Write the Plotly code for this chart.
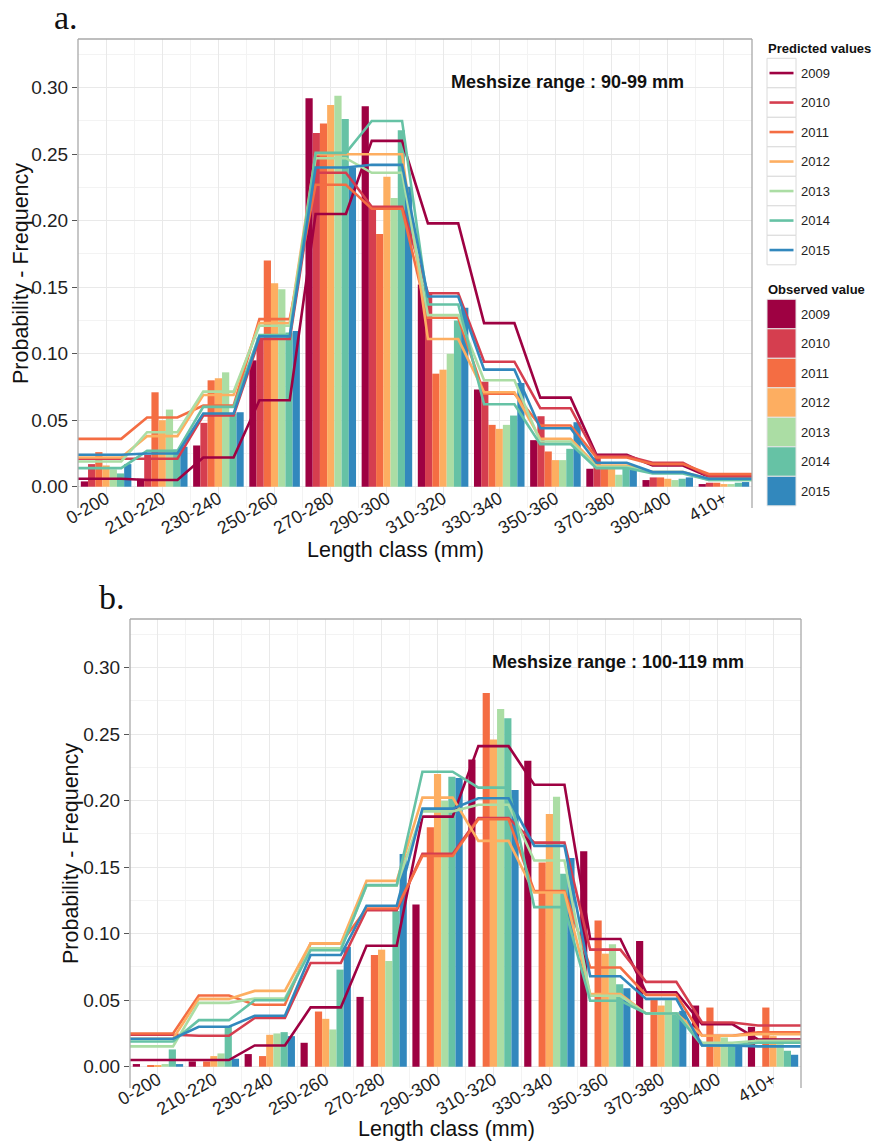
import plotly.graph_objects as go

# ---------------------------------------------------------------- data
length_classes = ["0-200", "210-220", "230-240", "250-260", "270-280", "290-300",
                  "310-320", "330-340", "350-360", "370-380", "390-400", "410+"]
years = ["2009", "2010", "2011", "2012", "2013", "2014", "2015"]
year_colors = ["#9E0142", "#D53E4F", "#F46D43", "#FDAE61", "#ABDDA4", "#66C2A5", "#3288BD"]

# Mesh size 90-99 mm : observed frequencies
obs_a_2009 = [0.004, 0.006, 0.031, 0.095, 0.292, 0.286, 0.152, 0.073, 0.035, 0.0135, 0.005, 0.002]
obs_a_2010 = [0.017, 0.024, 0.048, 0.112, 0.266, 0.210, 0.146, 0.079, 0.053, 0.022, 0.007, 0.003]
obs_a_2011 = [0.026, 0.071, 0.080, 0.170, 0.273, 0.190, 0.085, 0.0465, 0.0265, 0.015, 0.007, 0.003]
obs_a_2012 = [0.016, 0.050, 0.0815, 0.153, 0.287, 0.233, 0.088, 0.0435, 0.020, 0.014, 0.006, 0.002]
obs_a_2013 = [0.013, 0.058, 0.086, 0.1485, 0.294, 0.217, 0.100, 0.0465, 0.020, 0.009, 0.005, 0.002]
obs_a_2014 = [0.010, 0.028, 0.055, 0.116, 0.2765, 0.268, 0.125, 0.0535, 0.0285, 0.014, 0.006, 0.003]
obs_a_2015 = [0.017, 0.030, 0.056, 0.117, 0.240, 0.2255, 0.1345, 0.078, 0.0485, 0.013, 0.007, 0.0035]

# Mesh size 90-99 mm : predicted probabilities
pred_a_2009 = [0.006, 0.005, 0.022, 0.065, 0.205, 0.260, 0.198, 0.123, 0.067, 0.024, 0.016, 0.0075]
pred_a_2010 = [0.021, 0.021, 0.0535, 0.111, 0.236, 0.2105, 0.1455, 0.094, 0.059, 0.023, 0.018, 0.008]
pred_a_2011 = [0.036, 0.052, 0.061, 0.126, 0.227, 0.209, 0.127, 0.070, 0.046, 0.022, 0.017, 0.0095]
pred_a_2012 = [0.022, 0.038, 0.069, 0.123, 0.250, 0.250, 0.111, 0.071, 0.036, 0.016, 0.011, 0.006]
pred_a_2013 = [0.019, 0.041, 0.0715, 0.121, 0.247, 0.236, 0.129, 0.080, 0.034, 0.015, 0.011, 0.005]
pred_a_2014 = [0.014, 0.027, 0.060, 0.114, 0.251, 0.275, 0.137, 0.062, 0.032, 0.014, 0.010, 0.005]
pred_a_2015 = [0.024, 0.025, 0.055, 0.113, 0.240, 0.242, 0.143, 0.088, 0.044, 0.018, 0.011, 0.006]

# Mesh size 100-119 mm : observed frequencies (no 2010 sample)
obs_b_2009 = [0.002, 0.004, 0.0095, 0.018, 0.0525, 0.122, 0.231, 0.230, 0.162, 0.0945, 0.046, 0.030]
obs_b_2010 = [0, 0, 0, 0, 0, 0, 0, 0, 0, 0, 0, 0]
obs_b_2011 = [0.001, 0.004, 0.008, 0.0415, 0.084, 0.180, 0.281, 0.1535, 0.110, 0.051, 0.0445, 0.0445]
obs_b_2012 = [0.001, 0.008, 0.024, 0.036, 0.088, 0.220, 0.246, 0.190, 0.085, 0.046, 0.024, 0.023]
obs_b_2013 = [0.002, 0.010, 0.025, 0.028, 0.0795, 0.200, 0.269, 0.203, 0.092, 0.051, 0.022, 0.017]
obs_b_2014 = [0.013, 0.030, 0.026, 0.073, 0.117, 0.218, 0.262, 0.145, 0.062, 0.041, 0.017, 0.012]
obs_b_2015 = [0.002, 0.006, 0.023, 0.090, 0.160, 0.217, 0.208, 0.157, 0.059, 0.042, 0.017, 0.009]

# Mesh size 100-119 mm : predicted probabilities
pred_b_2009 = [0.005, 0.005, 0.016, 0.0446, 0.091, 0.188, 0.241, 0.212, 0.096, 0.056, 0.032, 0.0205]
pred_b_2010 = [0.024, 0.0233, 0.0366, 0.078, 0.1177, 0.160, 0.187, 0.1685, 0.088, 0.0638, 0.0333, 0.031]
pred_b_2011 = [0.025, 0.0535, 0.0466, 0.0927, 0.119, 0.1585, 0.186, 0.132, 0.0746, 0.054, 0.0233, 0.0258]
pred_b_2012 = [0.021, 0.051, 0.057, 0.0927, 0.1397, 0.2023, 0.1698, 0.131, 0.0546, 0.040, 0.0233, 0.0245]
pred_b_2013 = [0.0153, 0.048, 0.0513, 0.089, 0.136, 0.192, 0.197, 0.155, 0.0533, 0.040, 0.018, 0.0195]
pred_b_2014 = [0.019, 0.035, 0.050, 0.0876, 0.1365, 0.2218, 0.2098, 0.120, 0.0496, 0.040, 0.016, 0.018]
pred_b_2015 = [0.021, 0.030, 0.0383, 0.084, 0.121, 0.194, 0.2018, 0.166, 0.068, 0.051, 0.016, 0.0153]

y_ticks = [0.00, 0.05, 0.10, 0.15, 0.20, 0.25, 0.30]

panels = [
    dict(xa="x", ya="y", tag="a.", mesh="Meshsize range : 90-99 mm",
         observed=[obs_a_2009, obs_a_2010, obs_a_2011, obs_a_2012, obs_a_2013, obs_a_2014, obs_a_2015],
         predicted=[pred_a_2009, pred_a_2010, pred_a_2011, pred_a_2012, pred_a_2013, pred_a_2014, pred_a_2015]),
    dict(xa="x2", ya="y2", tag="b.", mesh="Meshsize range : 100-119 mm",
         observed=[obs_b_2009, obs_b_2010, obs_b_2011, obs_b_2012, obs_b_2013, obs_b_2014, obs_b_2015],
         predicted=[pred_b_2009, pred_b_2010, pred_b_2011, pred_b_2012, pred_b_2013, pred_b_2014, pred_b_2015]),
]

# ---------------------------------------------------------------- page geometry
W, H = 873, 1144
FONT = "Liberation Sans, Arial, sans-serif"
SERIF = "Liberation Serif, Times New Roman, serif"
INK = "#1f1f1f"


def px_x(px):
    return px / W


def px_y(py):
    return 1 - py / H


# plot-panel boxes in pixels (left, right, top, bottom) and label anchors
layout_boxes = [
    dict(l=78, r=752, t=39, b=508, axis_at=484, tag_xy=(52, 17.5),
         xtitle_xy=(395, 549.5), ytitle_xy=(21, 274)),
    dict(l=130, r=801, t=619, b=1088, axis_at=1065, tag_xy=(97, 597.5),
         xtitle_xy=(447, 1129), ytitle_xy=(71, 854)),
]

categories = list(range(1, len(length_classes) + 1))


def step_path(values, half=0.27):
    """Flat segment across each length class, joined by slopes between classes."""
    xs, ys = [], []
    n = len(values)
    for i, v in enumerate(values, start=1):
        xs += [0.5 if i == 1 else i - half, n + 0.5 if i == n else i + half]
        ys += [v, v]
    return xs, ys


fig = go.Figure()
annotations = []
shapes = []

for p, box in zip(panels, layout_boxes):
    for yr, col, vals in zip(years, year_colors, p["observed"]):
        fig.add_trace(go.Bar(x=categories, y=vals, marker=dict(color=col, line=dict(width=0)),
                             name=yr, showlegend=False, xaxis=p["xa"], yaxis=p["ya"]))
    for yr, col, vals in zip(years, year_colors, p["predicted"]):
        xs, ys = step_path(vals)
        fig.add_trace(go.Scatter(x=xs, y=ys, mode="lines", line=dict(color=col, width=2.6),
                                 name=yr, showlegend=False, xaxis=p["xa"], yaxis=p["ya"]))

    xkey = "xaxis" if p["xa"] == "x" else "xaxis2"
    ykey = "yaxis" if p["ya"] == "y" else "yaxis2"
    fig.layout[xkey] = dict(
        domain=[px_x(box["l"]), px_x(box["r"])], range=[0.5, len(categories) + 0.5],
        anchor="free", position=px_y(box["axis_at"]), automargin=False,
        tickmode="array", tickvals=categories, ticktext=length_classes, tickangle=-30,
        tickfont=dict(family=FONT, size=18, color=INK), ticks="",
        showgrid=True, gridcolor="#e9e9e9", gridwidth=1.1, zeroline=False, showline=False,
        minor=dict(tickmode="array", tickvals=[c + 0.5 for c in categories[:-1]],
                   showgrid=True, gridcolor="#f3f3f3", gridwidth=0.7, ticks=""),
        fixedrange=True,
    )
    fig.layout[ykey] = dict(
        domain=[px_y(box["b"]), px_y(box["t"])], range=[-0.016, 0.3366], anchor=p["xa"],
        automargin=False,
        tickmode="array", tickvals=y_ticks, ticktext=[f"{v:.2f}" for v in y_ticks],
        tickfont=dict(family=FONT, size=19, color=INK),
        ticks="outside", ticklen=5, tickwidth=1, tickcolor="#555555",
        showgrid=True, gridcolor="#e9e9e9", gridwidth=1.1, zeroline=False, showline=False,
        minor=dict(tickmode="array", tickvals=[0.025, 0.075, 0.125, 0.175, 0.225, 0.275, 0.325],
                   showgrid=True, gridcolor="#f3f3f3", gridwidth=0.7, ticks=""),
        fixedrange=True,
    )

    # panel border: left, top and right edges
    for x0, y0, x1, y1 in [(0, 0, 0, 1), (0, 1, 1, 1), (1, 0, 1, 1)]:
        shapes.append(dict(type="line", xref=f"{p['xa']} domain", yref=f"{p['ya']} domain",
                           x0=x0, y0=y0, x1=x1, y1=y1, line=dict(color="#a9a9a9", width=1.3),
                           layer="above"))

    annotations.append(dict(x=9.22, y=0.304, xref=p["xa"], yref=p["ya"], text=f"<b>{p['mesh']}</b>",
                            showarrow=False, xanchor="center", yanchor="middle",
                            font=dict(family=FONT, size=18, color="#111111")))
    tx, ty = box["tag_xy"]
    annotations.append(dict(x=px_x(tx), y=px_y(ty), xref="paper", yref="paper", text=p["tag"],
                            showarrow=False, xanchor="left", yanchor="middle",
                            font=dict(family=SERIF, size=34, color="#111111")))
    xx, xy = box["xtitle_xy"]
    annotations.append(dict(x=px_x(xx), y=px_y(xy), xref="paper", yref="paper",
                            text="Length class (mm)", showarrow=False,
                            xanchor="center", yanchor="middle",
                            font=dict(family=FONT, size=21.5, color="#111111")))
    yx, yy = box["ytitle_xy"]
    annotations.append(dict(x=px_x(yx), y=px_y(yy), xref="paper", yref="paper",
                            text="Probability - Frequency", showarrow=False, textangle=-90,
                            xanchor="center", yanchor="middle",
                            font=dict(family=FONT, size=21.5, color="#111111")))

# ---------------------------------------------------------------- legends (top panel)
KEY_L, KEY_R, KEY_H = 767, 796, 29.5


def legend_block(title, title_y, keys_top, filled):
    annotations.append(dict(x=px_x(KEY_L - 1), y=px_y(title_y), xref="paper", yref="paper",
                            text=f"<b>{title}</b>", showarrow=False, xanchor="left",
                            yanchor="middle", font=dict(family=FONT, size=13, color="#111111")))
    for k, (yr, col) in enumerate(zip(years, year_colors)):
        top = keys_top + k * KEY_H
        bot = top + KEY_H
        if filled:
            shapes.append(dict(type="rect", xref="paper", yref="paper",
                               x0=px_x(KEY_L), x1=px_x(KEY_R), y0=px_y(bot), y1=px_y(top),
                               fillcolor=col, line=dict(color="#e4e4e4", width=1)))
        else:
            shapes.append(dict(type="rect", xref="paper", yref="paper",
                               x0=px_x(KEY_L), x1=px_x(KEY_R), y0=px_y(bot), y1=px_y(top),
                               fillcolor="white", line=dict(color="#dadada", width=1)))
            mid = (top + bot) / 2
            shapes.append(dict(type="line", xref="paper", yref="paper",
                               x0=px_x(KEY_L + 2.5), x1=px_x(KEY_R - 2.5), y0=px_y(mid), y1=px_y(mid),
                               line=dict(color=col, width=2.6)))
        annotations.append(dict(x=px_x(KEY_R + 2.5), y=px_y((top + bot) / 2), xref="paper", yref="paper",
                                text=yr, showarrow=False, xanchor="left", yanchor="middle",
                                font=dict(family=FONT, size=13, color="#222222")))


legend_block("Predicted values", 48, 58.3, filled=False)
legend_block("Observed value", 289, 299.3, filled=True)

fig.update_layout(
    width=W, height=H, margin=dict(l=0, r=0, t=0, b=0, autoexpand=False),
    paper_bgcolor="white", plot_bgcolor="white",
    barmode="group", bargap=0.1, bargroupgap=0,
    showlegend=False, annotations=annotations, shapes=shapes,
    font=dict(family=FONT, color=INK),
)

fig.write_html("out.html", config={"displayModeBar": False})
